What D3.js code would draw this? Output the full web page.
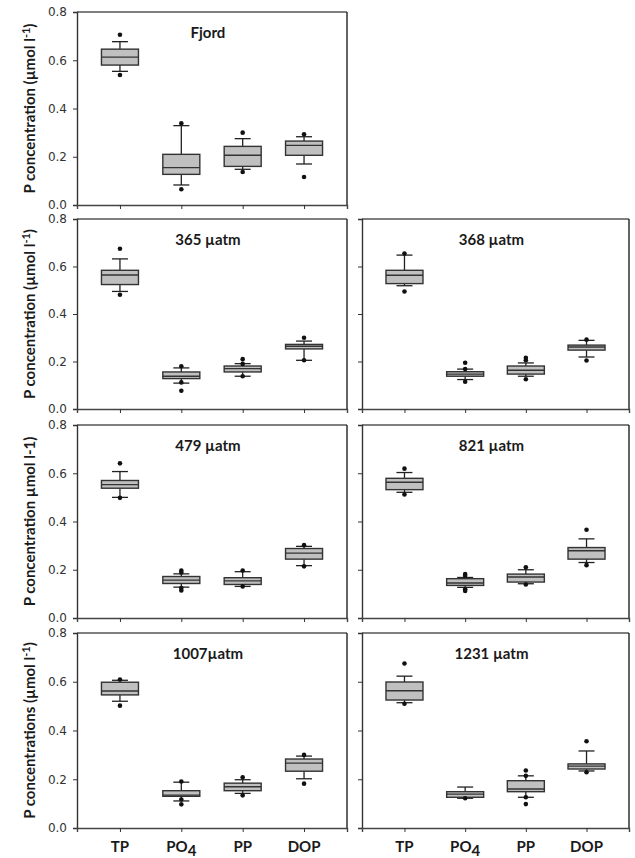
<!DOCTYPE html>
<html>
<head>
<meta charset="utf-8">
<script src="https://cdn.jsdelivr.net/npm/d3@7"></script>
<style>
  body { margin: 0; background: #fff; }
  .tick text { font-family: "DejaVu Sans", sans-serif; font-size: 12px; fill: #333; }
  .ttl { font-family: Lato, "Open Sans", sans-serif; font-weight: bold; fill: #1a1a1a; }
</style>
</head>
<body>
<div id="chart"></div>
<script>
const categories = ["TP", "PO4", "PP", "DOP"];
const panelTitles = ["Fjord", "365 µatm", "368 µatm", "479 µatm", "821 µatm", "1007µatm", "1231 µatm"];
const yTicks = [0, 0.2, 0.4, 0.6, 0.8];

// box stats per panel, one value per category
const q1 = [
  [0.580, 0.127, 0.160, 0.206],
  [0.524, 0.128, 0.156, 0.253],
  [0.528, 0.138, 0.147, 0.248],
  [0.538, 0.143, 0.139, 0.244],
  [0.532, 0.135, 0.149, 0.244],
  [0.546, 0.130, 0.153, 0.233],
  [0.525, 0.126, 0.149, 0.242]
];
const medians = [
  [0.613, 0.155, 0.206, 0.247],
  [0.564, 0.138, 0.170, 0.264],
  [0.563, 0.147, 0.163, 0.261],
  [0.553, 0.157, 0.154, 0.269],
  [0.563, 0.145, 0.170, 0.279],
  [0.562, 0.135, 0.169, 0.266],
  [0.563, 0.139, 0.160, 0.254]
];
const q3 = [
  [0.646, 0.210, 0.243, 0.265],
  [0.584, 0.156, 0.181, 0.272],
  [0.584, 0.157, 0.181, 0.269],
  [0.570, 0.172, 0.167, 0.288],
  [0.579, 0.163, 0.182, 0.292],
  [0.598, 0.153, 0.184, 0.283],
  [0.599, 0.149, 0.194, 0.263]
];
const whiskLow = [
  [0.554, 0.083, 0.148, 0.170],
  [0.495, 0.109, 0.138, 0.205],
  [0.519, 0.124, 0.138, 0.219],
  [0.500, 0.128, 0.131, 0.217],
  [0.521, 0.127, 0.142, 0.230],
  [0.520, 0.111, 0.142, 0.202],
  [0.514, 0.122, 0.126, 0.234]
];
const whiskHigh = [
  [0.677, 0.329, 0.275, 0.283],
  [0.632, 0.173, 0.191, 0.286],
  [0.648, 0.168, 0.194, 0.289],
  [0.607, 0.183, 0.192, 0.297],
  [0.603, 0.168, 0.200, 0.328],
  [0.606, 0.188, 0.198, 0.295],
  [0.623, 0.168, 0.214, 0.316]
];
const outliers = [
  [[0.706, 0.539], [0.339, 0.065], [0.300, 0.137], [0.293, 0.116]],
  [[0.675, 0.481], [0.180, 0.112, 0.077], [0.210, 0.190, 0.138], [0.300, 0.205]],
  [[0.655, 0.495], [0.195, 0.168, 0.115], [0.216, 0.205, 0.125], [0.292, 0.204]],
  [[0.641, 0.498], [0.197, 0.189, 0.124, 0.114], [0.197, 0.131], [0.302, 0.214]],
  [[0.619, 0.512], [0.182, 0.175, 0.119, 0.112], [0.210, 0.139], [0.366, 0.219]],
  [[0.609, 0.502], [0.191, 0.117, 0.097], [0.208, 0.134], [0.300, 0.182]],
  [[0.675, 0.510], [0.122], [0.236, 0.214, 0.126, 0.098], [0.356, 0.229]]
];

// layout
const cols = [[77, 347], [362, 629]];
const rows = [[12, 205], [219, 409], [425, 618], [633, 828]];
const panelCell = [[0, 0], [1, 0], [1, 1], [2, 0], [2, 1], [3, 0], [3, 1]];
const yTitles = [
  ["P concentration (µmol l", "-1", ")"],
  ["P concentration (µmol l", "-1", ")"],
  ["P concentration µmol l-1)", "", ""],
  ["P concentrations (µmol l", "-1", ")"]
];

const svg = d3.select("#chart").append("svg")
  .attr("width", 635).attr("height", 858);

panelTitles.forEach((title, p) => {
  const [ri, ci] = panelCell[p];
  const [x0, x1] = cols[ci];
  const [yTop, yBot] = rows[ri];

  const x = d3.scalePoint().domain(categories).range([x0, x1]).padding(0.7);
  const y = d3.scaleLinear().domain([0, 0.8]).range([yBot, yTop]);

  const g = svg.append("g");

  // frame
  g.append("line").attr("x1", x0).attr("x2", x1).attr("y1", yTop).attr("y2", yTop)
    .attr("stroke", "#555").attr("stroke-width", 1.4);
  g.append("line").attr("x1", x1).attr("x2", x1).attr("y1", yTop).attr("y2", yBot)
    .attr("stroke", "#222").attr("stroke-width", 1.4);

  const yAxis = d3.axisLeft(y).tickValues(yTicks).tickSize(4).tickPadding(6)
    .tickFormat(ci === 0 ? d3.format(".1f") : "");
  const ya = g.append("g").attr("transform", `translate(${x0},0)`).call(yAxis);
  ya.select(".domain").attr("stroke", "#333").attr("stroke-width", 1.4);
  ya.selectAll(".tick line").attr("stroke", "#333");

  const xAxis = d3.axisBottom(x).tickSize(4).tickFormat("");
  const xa = g.append("g").attr("transform", `translate(0,${yBot})`).call(xAxis);
  xa.select(".domain").attr("stroke", "#444").attr("stroke-width", 1.4);
  xa.selectAll(".tick line").attr("stroke", "#333");

  // panel title
  g.append("text").attr("class", "ttl")
    .attr("x", x0 + (x1 - x0) * 0.485).attr("y", yTop + 26)
    .attr("text-anchor", "middle").attr("font-size", 15)
    .text(title);

  // boxes
  const bw = 37, cw = 16;
  categories.forEach((c, i) => {
    const cx = x(c);
    // whiskers
    g.append("line").attr("x1", cx).attr("x2", cx)
      .attr("y1", y(q3[p][i])).attr("y2", y(whiskHigh[p][i]))
      .attr("stroke", "#222").attr("stroke-width", 1.3);
    g.append("line").attr("x1", cx).attr("x2", cx)
      .attr("y1", y(q1[p][i])).attr("y2", y(whiskLow[p][i]))
      .attr("stroke", "#222").attr("stroke-width", 1.3);
    [whiskHigh[p][i], whiskLow[p][i]].forEach(v => {
      g.append("line").attr("x1", cx - cw / 2).attr("x2", cx + cw / 2)
        .attr("y1", y(v)).attr("y2", y(v))
        .attr("stroke", "#222").attr("stroke-width", 1.3);
    });
    g.append("rect")
      .attr("x", cx - bw / 2).attr("width", bw)
      .attr("y", y(q3[p][i])).attr("height", y(q1[p][i]) - y(q3[p][i]))
      .attr("fill", "#c0c0c0").attr("stroke", "#333").attr("stroke-width", 1.4);
    g.append("line").attr("x1", cx - bw / 2).attr("x2", cx + bw / 2)
      .attr("y1", y(medians[p][i])).attr("y2", y(medians[p][i]))
      .attr("stroke", "#333").attr("stroke-width", 1.4);
    g.selectAll(null).data(outliers[p][i]).enter().append("circle")
      .attr("cx", cx).attr("cy", d => y(d)).attr("r", 2.3)
      .attr("fill", "#111");
  });
});

// y axis titles, one per row
rows.forEach(([yTop, yBot], ri) => {
  const t = svg.append("text").attr("class", "ttl")
    .attr("font-size", 15).attr("text-anchor", "middle")
    .attr("transform", `translate(35,${(yTop + yBot) / 2}) rotate(-90)`);
  const parts = yTitles[ri];
  t.append("tspan").text(parts[0]);
  if (parts[1]) {
    t.append("tspan").attr("font-size", 11).attr("dy", -5).text(parts[1]);
    t.append("tspan").attr("dy", 5).text(parts[2]);
  }
});

// category labels under the bottom row
const lastRow = rows[3];
cols.forEach(([x0, x1]) => {
  const x = d3.scalePoint().domain(categories).range([x0, x1]).padding(0.7);
  categories.forEach(c => {
    const t = svg.append("text").attr("class", "ttl")
      .attr("font-size", 15).attr("text-anchor", "middle")
      .attr("x", x(c)).attr("y", lastRow[1] + 24);
    if (c === "PO4") {
      t.append("tspan").text("PO");
      t.append("tspan").attr("dy", 4).text("4");
    } else {
      t.text(c);
    }
  });
});
</script>
</body>
</html>
